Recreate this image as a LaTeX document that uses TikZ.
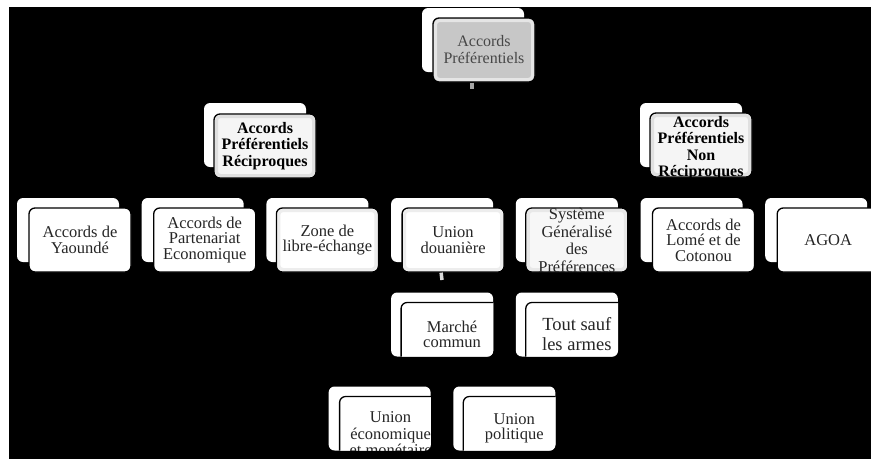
\documentclass[tikz,border=0pt]{standalone}
\usepackage{fontspec}
\setmainfont{Liberation Serif}
\usetikzlibrary{positioning}
\tikzstyle{every node}+=[inner sep=0pt]
\tikzstyle{back} = [rectangle, fill=white, rounded corners=6pt, minimum width=102pt, minimum height=64pt]
\tikzstyle{block} = [rectangle, draw=black, line width=1.3pt, fill=white, rounded corners=6pt, minimum width=102pt, minimum height=64pt, text=black!85, align=center, font=\fontsize{16.5}{15.5}\selectfont]
\tikzstyle{stub} = [draw, line width=3.5pt]
\tikzset{bevel/.style={block, path picture={\draw[#1, line width=3pt, rounded corners=4pt] ([shift={(2.5pt,2.5pt)}]path picture bounding box.south west) rectangle ([shift={(-2.5pt,-2.5pt)}]path picture bounding box.north east);}}, bevel/.default=black!12}
\newcommand{\cardstack}[2][-3pt]{\smash{\raisebox{#1}{\begin{tabular}{@{}c@{}}#2\end{tabular}}}}

\begin{document}
\begin{tikzpicture}[x=1pt, y=-1pt, node distance=124.7pt]
  \useasboundingbox (0,0) rectangle (871,459);
  \fill[black] (9,7) rectangle (871,459);
  % Place shadow cards
  \node [back] (s0) at (473,40) {};
  \node [back] (s1) at (255,135) {};
  \node [back] (s2) at (691,135) {};
  \node [back] (s3) at (68,230) {};
  \node [back, right of=s3] (s4) {};
  \node [back, right of=s4] (s5) {};
  \node [back, right of=s5] (s6) {};
  \node [back, right of=s6] (s7) {};
  \node [back, right of=s7] (s8) {};
  \node [back, right of=s8] (s9) {};
  \node [back, below of=s6, node distance=94.5pt] (s10) {};
  \node [back, below of=s7, node distance=94.5pt] (s11) {};
  \node [back, below of=s10, node distance=94pt, xshift=-62.5pt] (s12) {};
  \node [back, below of=s11, node distance=94pt, xshift=-62.5pt] (s13) {};
  % Place cards
  \node [bevel=black!10, fill=black!22, text=black!72, xshift=11pt, yshift=-10pt, font=\fontsize{16}{17}\selectfont] (n0) at (s0) {Accords\\Préférentiels};
  \node [bevel, fill=black!4, text=black, xshift=10pt, yshift=-11pt, font=\bfseries\fontsize{16}{16.5}\selectfont] (n1) at (s1) {Accords\\Préférentiels\\Réciproques};
  \node [bevel, fill=black!4, text=black, xshift=10pt, yshift=-10pt] (n2) at (s2) {\bfseries\fontsize{16}{16.5}\selectfont\cardstack[-8pt]{Accords\\Préférentiels\\Non\\Réciproques}};
  \node [block, xshift=12pt, yshift=-10pt] (n3) at (s3) {Accords de\\Yaoundé};
  \node [block, xshift=12pt, yshift=-10pt] (n4) at (s4) {Accords de\\Partenariat\\Economique};
  \node [bevel=black!7, xshift=10pt, yshift=-10pt] (n5) at (s5) {Zone de\\libre-échange};
  \node [bevel=black!7, xshift=11pt, yshift=-10pt] (n6) at (s6) {Union\\douanière};
  \node [bevel=black!9, fill=black!3, xshift=10pt, yshift=-10pt] (n7) at (s7) {\fontsize{16.5}{17.5}\selectfont\cardstack[-7pt]{Système\\Généralisé\\des\\Préférences}};
  \node [block, xshift=12pt, yshift=-10pt] (n8) at (s8) {Accords de\\Lomé et de\\Cotonou};
  \node [block, xshift=12pt, yshift=-10pt] (n9) at (s9) {AGOA};
  \begin{scope}
    \clip [rounded corners=6pt] (s10.south west) rectangle (s10.north east);
    \node [block, xshift=10pt, yshift=-10pt] (n10) at (s10) {Marché\\commun};
  \end{scope}
  \begin{scope}
    \clip [rounded corners=6pt] (s11.south west) rectangle (s11.north east);
    \node [block, xshift=10pt, yshift=-10pt, font=\fontsize{18.5}{20}\selectfont] (n11) at (s11) {Tout sauf\\les armes};
  \end{scope}
  \begin{scope}
    \clip [rounded corners=6pt] (s12.south west) rectangle (s12.north east);
    \node [block, xshift=11pt, yshift=-10pt] (n12) at (s12) {\fontsize{16.5}{16.5}\selectfont\cardstack[-12pt]{Union\\économique\\et monétaire}};
  \end{scope}
  \begin{scope}
    \clip [rounded corners=6pt] (s13.south west) rectangle (s13.north east);
    \node [block, xshift=10pt, yshift=-10pt] (n13) at (s13) {Union\\politique};
  \end{scope}
  % Draw edges
  \coordinate (c0) at (472,89);
  \coordinate (c6) at (442,280);
  \path [stub, black!35] ([xshift=-12pt]n0.south) -- (c0);
  \path [stub, black!15] ([xshift=-12pt]n6.south) -- (c6);
\end{tikzpicture}
\end{document}
